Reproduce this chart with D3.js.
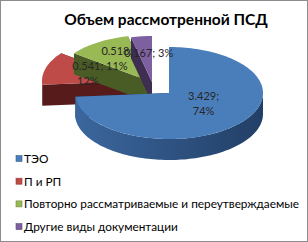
<!DOCTYPE html>
<html><head><meta charset="utf-8">
<script src="https://cdn.jsdelivr.net/npm/d3@7"></script>
<style>html,body{margin:0;padding:0;background:#fff;}svg{display:block;}</style>
</head><body><svg id="c" width="308" height="242"></svg>
<script>
// ---- data ----
const title = "Объем рассмотренной ПСД";
const categories = ["ТЭО", "П и РП", "Повторно рассматриваемые и переутверждаемые", "Другие виды документации"];
const values = [3.429, 0.541, 0.518, 0.167];
const valueLabels = ["3.429", "0.541", "0.518", "0.167"];
const percentLabels = ["74%", "12%", "11%", "3%"];

// ---- style / layout ----
const W = 308, H = 242;
const cx = 169, cy = 93, rx = 94, ry = 46, depth = 21;
const explode = [[0, 0], [-33, -12], [-20, -12], [-17, -11]];
const wrapLabel = [true, true, true, false];
const labelR = [0.5, 0.5, 0.55, 0.5];
const labelNudge = [[0, -5], [-3, -1], [-4, -1], [2, 2]];
const topColors = ["#4a7ebb", "#be4b48", "#98b954", "#7d60a0"];
const sideLight = ["#3b679e", "#7d2b29", "#6f8a3a", "#5b4578"];
const sideDark = ["#223f66", "#561b1a", "#4a5c26", "#3d2e52"];
const font = "Lato, 'Open Sans', sans-serif";

const svg = d3.select("#c");
const defs = svg.append("defs");
categories.forEach((c, i) => {
  const g = defs.append("linearGradient").attr("id", "side" + i).attr("x1", "0").attr("x2", "1").attr("y1", "0").attr("y2", "0");
  g.append("stop").attr("offset", "0").attr("stop-color", sideLight[i]);
  g.append("stop").attr("offset", "1").attr("stop-color", sideDark[i]);
});

svg.append("rect").attr("x", 0.5).attr("y", 0.5).attr("width", W - 1).attr("height", H - 1)
  .attr("fill", "#fff").attr("stroke", "#8c8c8c");

svg.append("text").attr("x", 166).attr("y", 25).attr("text-anchor", "middle")
  .attr("font-family", font).attr("font-weight", "bold").attr("font-size", 15.5).attr("fill", "#000").text(title);

const pie = d3.pie().sort(null).value(d => d)(values);
const line = d3.line();

function P(i, a, r, dz) {
  return [cx + explode[i][0] + r * rx * Math.sin(a), cy + explode[i][1] - r * ry * Math.cos(a) + dz];
}
function arcPts(i, a0, a1, dz) {
  const n = Math.max(2, Math.ceil((a1 - a0) / 0.03));
  return d3.range(n + 1).map(k => P(i, a0 + (a1 - a0) * k / n, 1, dz));
}

const order = d3.range(values.length).sort((a, b) => explode[a][1] - explode[b][1]);
const gPie = svg.append("g");
order.forEach(i => {
  const s = pie[i];
  const a0 = s.startAngle, a1 = s.endAngle;
  const v0 = P(i, 0, 0, 0), v1 = P(i, 0, 0, depth);
  [a0, a1].forEach(a => {
    const e0 = P(i, a, 1, 0), e1 = P(i, a, 1, depth);
    gPie.append("path").attr("d", line([v0, v1, e1, e0]) + "Z").attr("fill", sideDark[i]);
  });
  const f0 = Math.max(a0, Math.PI / 2), f1 = Math.min(a1, 3 * Math.PI / 2);
  if (f1 > f0) {
    const top = arcPts(i, f0, f1, 0), bot = arcPts(i, f0, f1, depth).reverse();
    gPie.append("path").attr("d", line(top.concat(bot)) + "Z").attr("fill", "url(#side" + i + ")");
  }
  const pts = [v0].concat(arcPts(i, a0, a1, 0));
  gPie.append("path").attr("d", line(pts) + "Z").attr("fill", topColors[i]);
});

// data labels
const gLab = svg.append("g").attr("font-family", font).attr("font-size", 11).attr("fill", "#262626").attr("text-anchor", "middle");
pie.forEach((s, i) => {
  const m = (s.startAngle + s.endAngle) / 2;
  const p = P(i, m, labelR[i], 0);
  const x = p[0] + labelNudge[i][0], y = p[1] + labelNudge[i][1];
  if (wrapLabel[i]) {
    const t = gLab.append("text").attr("x", x).attr("y", y - 3.5);
    t.append("tspan").attr("x", x).text(valueLabels[i] + ";");
    t.append("tspan").attr("x", x).attr("dy", 14.5).text(percentLabels[i]);
  } else {
    gLab.append("text").attr("x", x).attr("y", y - 4).text(valueLabels[i] + "; " + percentLabels[i]);
  }
});

// legend
const gLeg = svg.append("g").attr("font-family", font).attr("font-size", 11.8);
categories.forEach((c, i) => {
  const y = 159 + i * 22.7;
  gLeg.append("rect").attr("x", 16).attr("y", y - 3.5).attr("width", 6).attr("height", 6)
    .attr("fill", topColors[i]).attr("stroke", d3.color(topColors[i]).darker(0.8)).attr("stroke-width", 0.6);
  gLeg.append("text").attr("x", 24).attr("y", y + 4).attr("fill", "#000").text(c);
});
</script></body></html>
